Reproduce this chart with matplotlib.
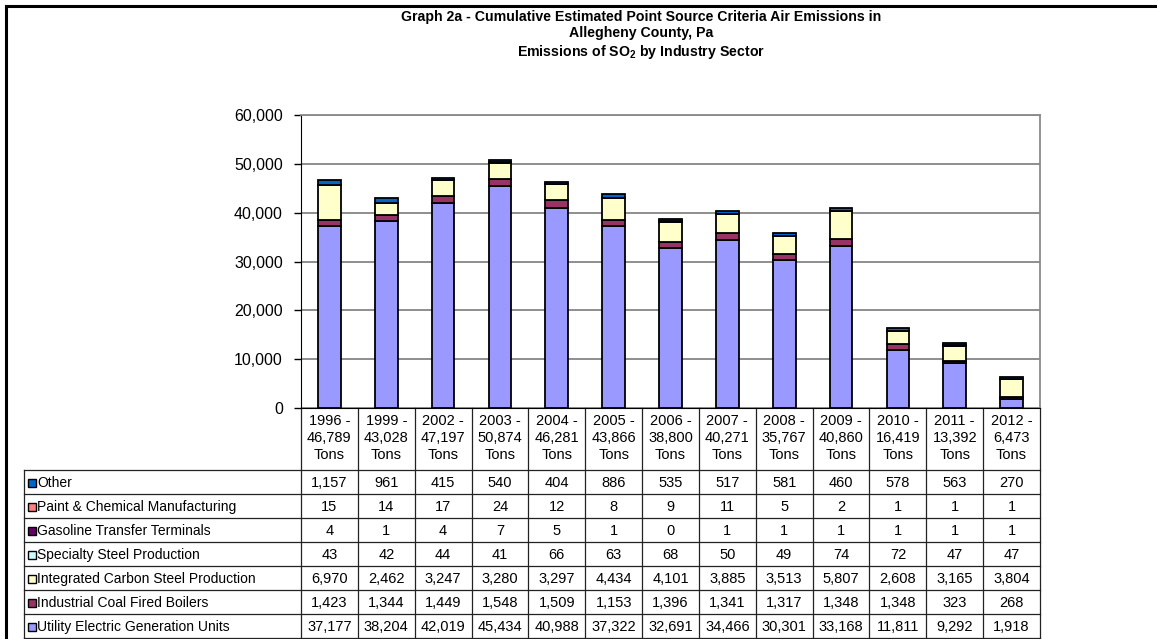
import matplotlib.pyplot as plt
import numpy as np
from matplotlib.transforms import blended_transform_factory
from matplotlib.patches import Rectangle

plt.rcParams['font.family'] = ['Liberation Sans', 'DejaVu Sans']
plt.rcParams['mathtext.fontset'] = 'custom'
plt.rcParams['mathtext.rm'] = 'Liberation Sans'
plt.rcParams['mathtext.bf'] = 'Liberation Sans:bold'

years = ['1996', '1999', '2002', '2003', '2004', '2005', '2006',
         '2007', '2008', '2009', '2010', '2011', '2012']
totals = ['46,789', '43,028', '47,197', '50,874', '46,281', '43,866', '38,800',
          '40,271', '35,767', '40,860', '16,419', '13,392', '6,473']

other = [1157, 961, 415, 540, 404, 886, 535, 517, 581, 460, 578, 563, 270]
paint = [15, 14, 17, 24, 12, 8, 9, 11, 5, 2, 1, 1, 1]
gasoline = [4, 1, 4, 7, 5, 1, 0, 1, 1, 1, 1, 1, 1]
specialty = [43, 42, 44, 41, 66, 63, 68, 50, 49, 74, 72, 47, 47]
integrated = [6970, 2462, 3247, 3280, 3297, 4434, 4101, 3885, 3513, 5807, 2608, 3165, 3804]
coal = [1423, 1344, 1449, 1548, 1509, 1153, 1396, 1341, 1317, 1348, 1348, 323, 268]
utility = [37177, 38204, 42019, 45434, 40988, 37322, 32691, 34466, 30301, 33168, 11811, 9292, 1918]

# table order (top to bottom)
names = ['Other', 'Paint & Chemical Manufacturing', 'Gasoline Transfer Terminals',
         'Specialty Steel Production', 'Integrated Carbon Steel Production',
         'Industrial Coal Fired Boilers', 'Utility Electric Generation Units']
series = [other, paint, gasoline, specialty, integrated, coal, utility]
colors = ['#0066CC', '#FF8080', '#660066', '#CCFFFF', '#FFFFCC', '#993366', '#9999FF']

W, H = 1157, 639
fig = plt.figure(figsize=(W / 100, H / 100), dpi=100)
ax = fig.add_axes([301 / W, 1 - 408 / H, 739 / W, 293 / H])

x = np.arange(len(years))
bottom = np.zeros(len(years))
for vals, c in zip(series[::-1], colors[::-1]):
    ax.bar(x, vals, 0.4, bottom=bottom, color=c, edgecolor='black', linewidth=1.3, zorder=3)
    bottom += np.array(vals)

ax.set_xlim(-0.5, len(years) - 0.5)
ax.set_ylim(0, 60000)
ax.set_yticks(np.arange(0, 60001, 10000))
ax.set_yticklabels([f'{v:,}' for v in range(0, 60001, 10000)], fontsize=11.5)
ax.tick_params(axis='y', length=5, width=1, color='black', pad=8)
ax.set_xticks([])
ax.grid(axis='y', color='#707070', linewidth=1.1, zorder=0)
for s in ['top', 'right']:
    ax.spines[s].set_color('#8a8a8a')
    ax.spines[s].set_linewidth(1.3)
ax.spines['left'].set_color('black')
ax.spines['bottom'].set_color('black')

# data table below the plot
tr = blended_transform_factory(ax.transData, ax.transAxes)
ph = 293.0
col_px = 739 / len(years)


def ya(p):
    return (408 - p) / ph


hdr_bot = 470
row_h = 24
tab_bot = hdr_bot + row_h * len(names)
left = -0.5 - 277 / col_px
lc = '#222222'
lw = 0.9

for i in range(len(years) + 1):
    ax.plot([i - 0.5, i - 0.5], [ya(408), ya(tab_bot)], color=lc, lw=lw, transform=tr, clip_on=False)
ax.plot([left, left], [ya(hdr_bot), ya(tab_bot)], color=lc, lw=lw, transform=tr, clip_on=False)
for r in range(len(names) + 1):
    yy = ya(hdr_bot + row_h * r)
    ax.plot([left, len(years) - 0.5], [yy, yy], color=lc, lw=lw, transform=tr, clip_on=False)

for i, (yr, tot) in enumerate(zip(years, totals)):
    ax.text(i, ya(438), f'{yr} -\n{tot}\nTons', transform=tr, ha='center', va='center',
            fontsize=10.5, linespacing=1.3)

for r, (nm, vals, c) in enumerate(zip(names, series, colors)):
    yc = ya(hdr_bot + row_h * r + row_h / 2 + 1)
    ax.add_patch(Rectangle((left + 4 / col_px, yc - 4 / ph), 8 / col_px, 8 / ph,
                           facecolor=c, edgecolor='black', lw=1.0, transform=tr, clip_on=False))
    ax.text(left + 13 / col_px, yc, nm, transform=tr, ha='left', va='center', fontsize=10)
    for i, v in enumerate(vals):
        ax.text(i, yc, f'{v:,}', transform=tr, ha='center', va='center', fontsize=10.5)

fig.text(641 / W, 1 - 10 / H,
         'Graph 2a - Cumulative Estimated Point Source Criteria Air Emissions in\n'
         'Allegheny County, Pa\nEmissions of SO$_\\mathbf{2}$ by Industry Sector',
         ha='center', va='top', fontsize=10.2, fontweight='bold', linespacing=1.2)

# outer frame
fig.add_artist(plt.Line2D([6 / W, 6 / W], [0, 1 - 6 / H], color='black', lw=2.2))
fig.add_artist(plt.Line2D([6 / W, 1], [1 - 6 / H, 1 - 6 / H], color='black', lw=2.2))

fig.savefig('out.png', dpi=100)
